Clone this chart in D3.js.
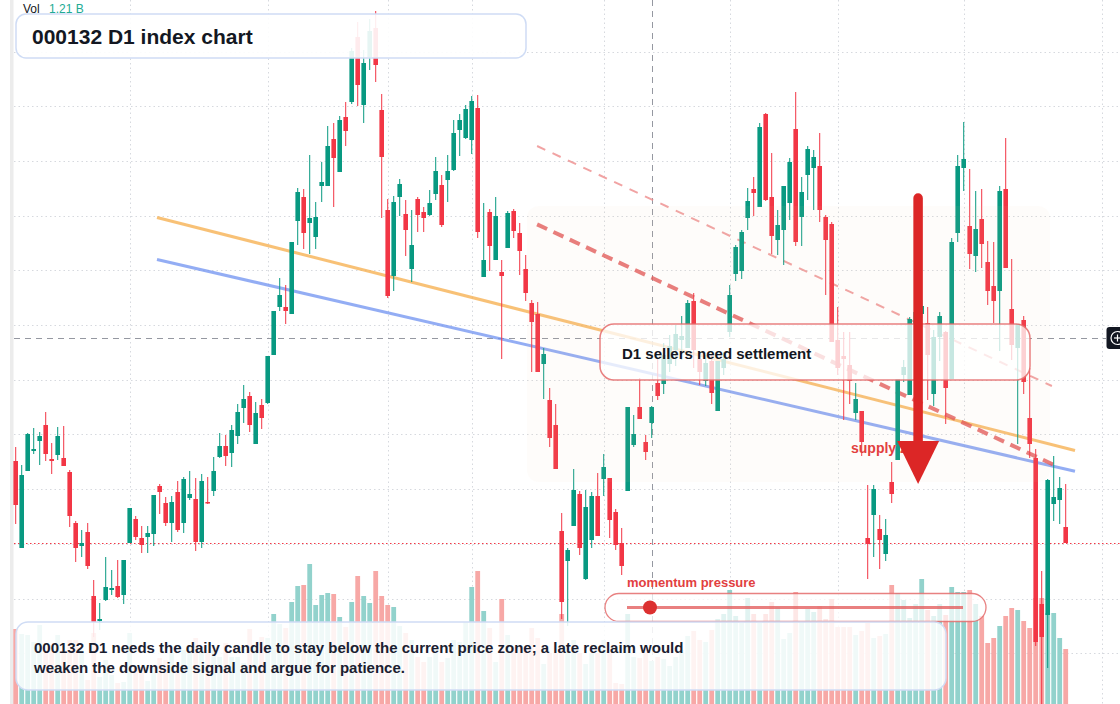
<!DOCTYPE html>
<html><head><meta charset="utf-8">
<script src="https://cdn.jsdelivr.net/npm/d3@7"></script>
<style>
body{margin:0;background:#fff;}
svg{display:block;font-family:"Liberation Sans",Arial,Helvetica,sans-serif;}
</style>
</head><body>
<svg id="c" width="1120" height="704"></svg>
<script>
// ---- data (daily candles, index points) ----
const opens = [
3083,2996,3073,3093,3103,3119,3085,3089,3086,3072,
3021,2998,3012,2948,2923,2944,2954,2958,2949,3001,
3025,3006,3007,3010,3058,3041,3021,3052,3021,3046,
3045,3002,3042,3053,3087,3098,3091,3108,3136,3148,
3100,3139,3141,3189,3237,3237,3230,3323,3347,3321,
3307,3358,3358,3405,3372,3427,3442,3507,3439,3487,
3516,3434,3334,3268,3347,3330,3275,3345,3332,3329,
3350,3359,3364,3374,3414,3406,3404,3436,3267,3332,
3284,3272,3296,3333,3311,3275,3241,3230,3180,3144,
3119,3013,2983,3018,3050,2965,3004,3048,3065,3066,
3032,3001,3053,3099,3137,3102,3121,3161,3160,3180,
3194,3204,3196,3243,3185,3163,3183,3133,3176,3212,
3270,3273,3326,3355,3337,3430,3347,3304,3314,3341,
3415,3327,3369,3376,3378,3327,3320,3204,3188,3179,
3131,3133,3006,3029,3015,2990,3062,3084,3169,3149,
3204,3230,3221,3150,3207,3212,3165,3311,3376,3318,
3288,3325,3282,3258,3253,3355,3235,3196,3224,3126,
3086,2940,2929,3040,3044,3017];
const highs = [
3097,3079,3111,3116,3112,3132,3101,3117,3118,3074,
3023,3014,3021,2964,2941,2987,2974,2984,2984,3036,
3028,3018,3018,3049,3060,3047,3048,3063,3067,3073,
3066,3070,3067,3087,3111,3109,3119,3140,3159,3152,
3142,3145,3188,3233,3266,3259,3302,3356,3355,3389,
3342,3382,3418,3421,3428,3442,3496,3522,3494,3525,
3533,3450,3345,3348,3365,3344,3334,3347,3337,3354,
3387,3369,3389,3424,3430,3439,3448,3449,3341,3335,
3347,3284,3333,3335,3321,3289,3244,3242,3196,3156,
3140,3031,2996,3075,3053,3054,3052,3071,3090,3066,
3035,3016,3137,3129,3166,3109,3138,3185,3201,3209,
3219,3228,3244,3251,3192,3189,3189,3183,3192,3259,
3299,3314,3356,3367,3421,3431,3391,3334,3358,3386,
3452,3367,3398,3394,3411,3329,3322,3237,3212,3212,
3161,3133,3059,3059,3029,3025,3082,3165,3184,3227,
3240,3244,3237,3214,3232,3213,3306,3389,3422,3375,
3353,3355,3303,3302,3358,3406,3285,3220,3228,3176,
3095,2973,3065,3088,3067,3060];
const lows = [
3020,2996,3073,3090,3079,3083,3070,3084,3078,3017,
2982,2987,2975,2907,2914,2943,2949,2946,2940,3001,
3004,2991,2991,2998,3030,3018,3002,3012,3011,3044,
2993,2996,3040,3048,3086,3078,3077,3100,3121,3112,
3100,3115,3140,3189,3233,3220,3230,3299,3295,3290,
3295,3342,3358,3337,3372,3398,3440,3438,3421,3474,
3462,3326,3246,3253,3328,3288,3262,3312,3312,3328,
3344,3317,3342,3373,3388,3405,3390,3306,3267,3273,
3284,3185,3296,3306,3269,3243,3172,3172,3145,3097,
3075,2925,2918,3018,2989,2964,2996,3008,3048,3006,
2994,2969,3053,3097,3125,3084,3106,3144,3150,3172,
3178,3184,3196,3176,3159,3158,3140,3133,3169,3207,
3263,3265,3314,3328,3337,3343,3290,3289,3279,3324,
3298,3298,3344,3334,3322,3249,3202,3169,3124,3140,
3124,3088,2965,2987,2975,2983,3041,3084,3162,3149,
3196,3226,3144,3138,3183,3120,3165,3302,3353,3275,
3272,3276,3239,3221,3193,3276,3184,3100,3150,3086,
2898,2840,2876,3023,3020,3001];
const closes = [
3039,3069,3110,3095,3108,3090,3083,3108,3078,3028,
2996,3001,2978,2922,2925,2957,2956,2947,2984,3036,
3007,2999,3011,3049,3052,3021,3042,3014,3065,3050,
3002,3063,3041,3073,3098,3088,3114,3132,3145,3119,
3131,3126,3188,3233,3249,3233,3302,3352,3311,3326,
3327,3362,3398,3386,3424,3413,3493,3459,3481,3513,
3479,3387,3248,3342,3360,3314,3299,3329,3326,3341,
3373,3319,3373,3411,3424,3435,3443,3312,3284,3298,
3328,3268,3331,3313,3293,3251,3222,3172,3190,3106,
3075,2942,2994,3054,2996,3037,3048,3008,3077,3024,
2999,2978,3137,3110,3125,3092,3137,3148,3189,3198,
3210,3208,3241,3194,3172,3181,3151,3183,3185,3249,
3297,3312,3343,3351,3417,3344,3308,3319,3358,3382,
3302,3352,3395,3387,3334,3304,3202,3176,3185,3163,
3145,3102,3000,3055,3004,3009,3050,3165,3177,3225,
3232,3238,3189,3207,3228,3156,3302,3378,3385,3290,
3315,3300,3253,3243,3353,3276,3199,3220,3162,3100,
2902,2907,3064,3047,3056,3001];
// volume in millions of shares
const volumes = [
1650,1540,1518,1364,1738,1188,1298,1518,1188,1408,
1408,1188,528,1562,594,968,638,462,484,1562,
792,814,506,792,1012,968,1122,682,1188,1254,
1452,1122,1188,1188,1034,1342,1034,1034,902,1650,
1254,1474,1452,1980,1760,1672,2244,2596,2618,3080,
2178,2398,2442,2420,1914,1694,2244,2816,2376,2222,
2926,2376,2178,2134,1716,1562,1408,1034,924,1034,
1188,924,1012,1408,1364,1804,2574,2926,2046,1672,
924,2310,1518,1254,1254,1254,1672,1452,880,1122,
1122,1980,1254,1408,1122,880,1122,1122,1408,1122,
462,440,1980,1034,1012,1254,946,1034,990,836,
1034,1188,1496,1606,1408,1364,1628,1870,1980,2508,
1936,1782,2332,1980,1782,1980,2244,2134,1430,1562,
2464,1804,2090,2024,2156,1870,2310,1694,1694,1694,
1518,1606,1782,1452,1496,1540,2618,2442,2288,1892,
2200,2750,2068,1936,2200,1958,2574,2464,2464,2508,
2200,1936,1342,1452,1716,1936,2112,2068,1826,1672,
2332,2332,2002,2002,1452,1210];

// horizontal grid prices and month-start bar indices (vertical grid)
const priceGrid = [3492,3438,3383,3328,3274,3219,3164,3110,3055,3000,2945,2891];
const monthStarts = [19,42,62,76,98,119,137,158,181];
const lastPriceLevel = 3001;
const crosshair = {i:106, p:3206};

// trend lines [barIndex, price]
const orangeLine = [[23.55,3326.5],[176.55,3093.5]];
const blueLine   = [[23.55,3284.5],[176.55,3072.7]];
const redDashLine  = [[86.9,3319.6],[172.9,3079.5]];
const pinkDashLine = [[86.9,3398.0],[172.7,3158.0]];
const supplyZone = {i0:85.2, i1:172.4, p0:3338, p1:3062};
const arrowSpec = {i:150.4, from:3346, to:3060};

const titleText = "000132 D1 index chart";
const noteLines = ["000132 D1 needs the daily candle to stay below the current price zone; a late reclaim would",
                   "weaken the downside signal and argue for patience."];
const calloutText = "D1 sellers need settlement";
const zoneLabel = "supply zone";
const meterLabel = "momentum pressure";
const volLegend = ["Vol","1.21 B"];

// ---- drawing ----
const W=1120,H=704;
const UP='#089981', DN='#f23645';
const svg=d3.select('#c');
const N=opens.length;
const x=d3.scaleLinear().domain([0,175]).range([15.7,1065.7]);
const y=d3.scaleLinear().domain([2840,3544]).range([H,0]);
const yv=d3.scaleLinear().domain([0,3300]).range([H,H-150]);

const bars=d3.range(N).map(i=>({i,o:opens[i],h:highs[i],l:lows[i],c:closes[i],v:volumes[i],up:closes[i]>=opens[i]}));

svg.append('rect').attr('width',W).attr('height',H).attr('fill','#fff');
svg.append('rect').attr('x',10).attr('y',0).attr('width',3.5).attr('height',H).attr('fill','#ececec');

// grid
const grid=svg.append('g');
grid.selectAll('line').data(priceGrid).join('line')
  .attr('x1',14).attr('x2',W).attr('y1',d=>Math.round(y(d))+0.5).attr('y2',d=>Math.round(y(d))+0.5)
  .attr('stroke','#d6d9de').attr('stroke-width',1).attr('stroke-dasharray','1.5,3');
const vgrid=svg.append('g');
vgrid.selectAll('line').data(monthStarts).join('line')
  .attr('x1',d=>Math.round(x(d))+0.5).attr('x2',d=>Math.round(x(d))+0.5).attr('y1',0).attr('y2',H)
  .attr('stroke','#d6d9de').attr('stroke-width',1).attr('stroke-dasharray','1.5,3');

// last price dotted line
svg.append('line').attr('x1',14).attr('x2',W)
  .attr('y1',Math.round(y(lastPriceLevel))+0.5).attr('y2',Math.round(y(lastPriceLevel))+0.5)
  .attr('stroke',DN).attr('stroke-width',1.2).attr('stroke-dasharray','1.5,2.5');

// crosshair
svg.append('line').attr('x1',14).attr('x2',1106).attr('y1',Math.round(y(crosshair.p))+0.5).attr('y2',Math.round(y(crosshair.p))+0.5)
  .attr('stroke','#9598a1').attr('stroke-width',1).attr('stroke-dasharray','6,5');
svg.append('line').attr('x1',Math.round(x(crosshair.i))+0.5).attr('x2',Math.round(x(crosshair.i))+0.5).attr('y1',0).attr('y2',H)
  .attr('stroke','#9598a1').attr('stroke-width',1).attr('stroke-dasharray','6,5');

// volume
const vg=svg.append('g');
vg.selectAll('rect').data(bars).join('rect')
  .attr('x',d=>x(d.i)-2.4).attr('width',4.8)
  .attr('y',d=>yv(d.v)).attr('height',d=>H-yv(d.v))
  .attr('fill',d=>d.up?'#92d2cc':'#f7a8a6');

// trend lines
const lineGen=d3.line().x(d=>x(d[0])).y(d=>y(d[1]));
svg.append('path').attr('d',lineGen(orangeLine)).attr('fill','none').attr('stroke','#f6b04f').attr('stroke-opacity',0.78).attr('stroke-width',3);
svg.append('path').attr('d',lineGen(blueLine)).attr('fill','none').attr('stroke','#6f92f0').attr('stroke-opacity',0.75).attr('stroke-width',3);
svg.append('path').attr('d',lineGen(pinkDashLine)).attr('fill','none').attr('stroke','#ee8c8c').attr('stroke-opacity',0.8).attr('stroke-width',2).attr('stroke-dasharray','9,8');
svg.append('path').attr('d',lineGen(redDashLine)).attr('fill','none').attr('stroke','#e25555').attr('stroke-opacity',0.78).attr('stroke-width',4).attr('stroke-dasharray','11,7');

// candles
const wg=svg.append('g');
wg.selectAll('rect').data(bars).join('rect')
  .attr('x',d=>x(d.i)-0.5).attr('width',1)
  .attr('y',d=>y(d.h)).attr('height',d=>Math.max(1,y(d.l)-y(d.h)))
  .attr('fill',d=>d.up?UP:DN);
const bg=svg.append('g');
bg.selectAll('rect').data(bars).join('rect')
  .attr('x',d=>x(d.i)-2.3).attr('width',4.6)
  .attr('y',d=>y(Math.max(d.o,d.c))).attr('height',d=>Math.max(1.5,Math.abs(y(d.o)-y(d.c))))
  .attr('fill',d=>d.up?UP:DN);

// supply zone overlay (very faint)
svg.append('rect').attr('x',x(supplyZone.i0)).attr('y',y(supplyZone.p0))
  .attr('width',x(supplyZone.i1)-x(supplyZone.i0)).attr('height',y(supplyZone.p1)-y(supplyZone.p0))
  .attr('rx',12).attr('fill','rgb(240,200,170)').attr('fill-opacity',0.06);

// callout box
svg.append('rect').attr('x',600).attr('y',324).attr('width',430).attr('height',56).attr('rx',14)
  .attr('fill','#fff').attr('fill-opacity',0.76).attr('stroke','#e46b6b').attr('stroke-opacity',0.85).attr('stroke-width',1.5);
svg.append('text').attr('x',622).attr('y',359).attr('font-size',15).attr('font-weight','bold').attr('fill','#131722').text(calloutText);

// supply zone label + arrow
svg.append('text').attr('x',851).attr('y',453).attr('font-size',14).attr('font-weight','bold').attr('fill','#e2403f').text(zoneLabel);
const ax=x(arrowSpec.i);
svg.append('line').attr('x1',ax).attr('x2',ax).attr('y1',y(arrowSpec.from)).attr('y2',y(arrowSpec.to)-40)
  .attr('stroke','#dc2626').attr('stroke-width',9.5).attr('stroke-linecap','round');
const tipY=y(arrowSpec.to);
svg.append('path').attr('d',`M${ax-21},${tipY-43}L${ax+21},${tipY-43}L${ax},${tipY}Z`).attr('fill','#dc2626');

// momentum meter
svg.append('text').attr('x',627).attr('y',587).attr('font-size',13).attr('font-weight','bold').attr('fill','#e2403f').text(meterLabel);
svg.append('rect').attr('x',605).attr('y',593.5).attr('width',381).attr('height',28).attr('rx',14)
  .attr('fill','#fff').attr('fill-opacity',0.72).attr('stroke','#e46b6b').attr('stroke-opacity',0.85).attr('stroke-width',1.3);
svg.append('line').attr('x1',627).attr('x2',963).attr('y1',607.5).attr('y2',607.5).attr('stroke','#e25555').attr('stroke-opacity',0.75).attr('stroke-width',3);
svg.append('circle').attr('cx',650).attr('cy',607.5).attr('r',7).attr('fill','#dc3030');

// note box
svg.append('rect').attr('x',16).attr('y',622).attr('width',930).attr('height',68).attr('rx',12)
  .attr('fill','#fff').attr('fill-opacity',0.86).attr('stroke','#cfdcf5').attr('stroke-width',1.5);
svg.append('g').selectAll('text').data(noteLines).join('text')
  .attr('x',34).attr('y',(d,i)=>653+i*20).attr('font-size',15).attr('font-weight','bold').attr('fill','#1a2030').text(d=>d);

// title box
svg.append('rect').attr('x',16).attr('y',14).attr('width',510).attr('height',44).attr('rx',10)
  .attr('fill','#fff').attr('fill-opacity',0.9).attr('stroke','#cfdcf5').attr('stroke-width',1.5);
svg.append('text').attr('x',32).attr('y',43.5).attr('font-size',21).attr('font-weight','bold').attr('fill','#131722').text(titleText);

// legend
svg.append('text').attr('x',23).attr('y',12.5).attr('font-size',12).attr('fill','#131722').text(volLegend[0]);
svg.append('text').attr('x',49).attr('y',12.5).attr('font-size',12).attr('fill','#22ab94').text(volLegend[1]);

// crosshair price-label button
const cy=y(crosshair.p);
svg.append('rect').attr('x',1106.5).attr('y',cy-11).attr('width',22).attr('height',22).attr('rx',3).attr('fill','#131722');
svg.append('circle').attr('cx',1117.5).attr('cy',cy).attr('r',6.5).attr('fill','none').attr('stroke','#fff').attr('stroke-width',1.2);
svg.append('line').attr('x1',1114).attr('x2',1121).attr('y1',cy).attr('y2',cy).attr('stroke','#fff').attr('stroke-width',1.2);
svg.append('line').attr('x1',1117.5).attr('x2',1117.5).attr('y1',cy-3.5).attr('y2',cy+3.5).attr('stroke','#fff').attr('stroke-width',1.2);
</script>
</body></html>
